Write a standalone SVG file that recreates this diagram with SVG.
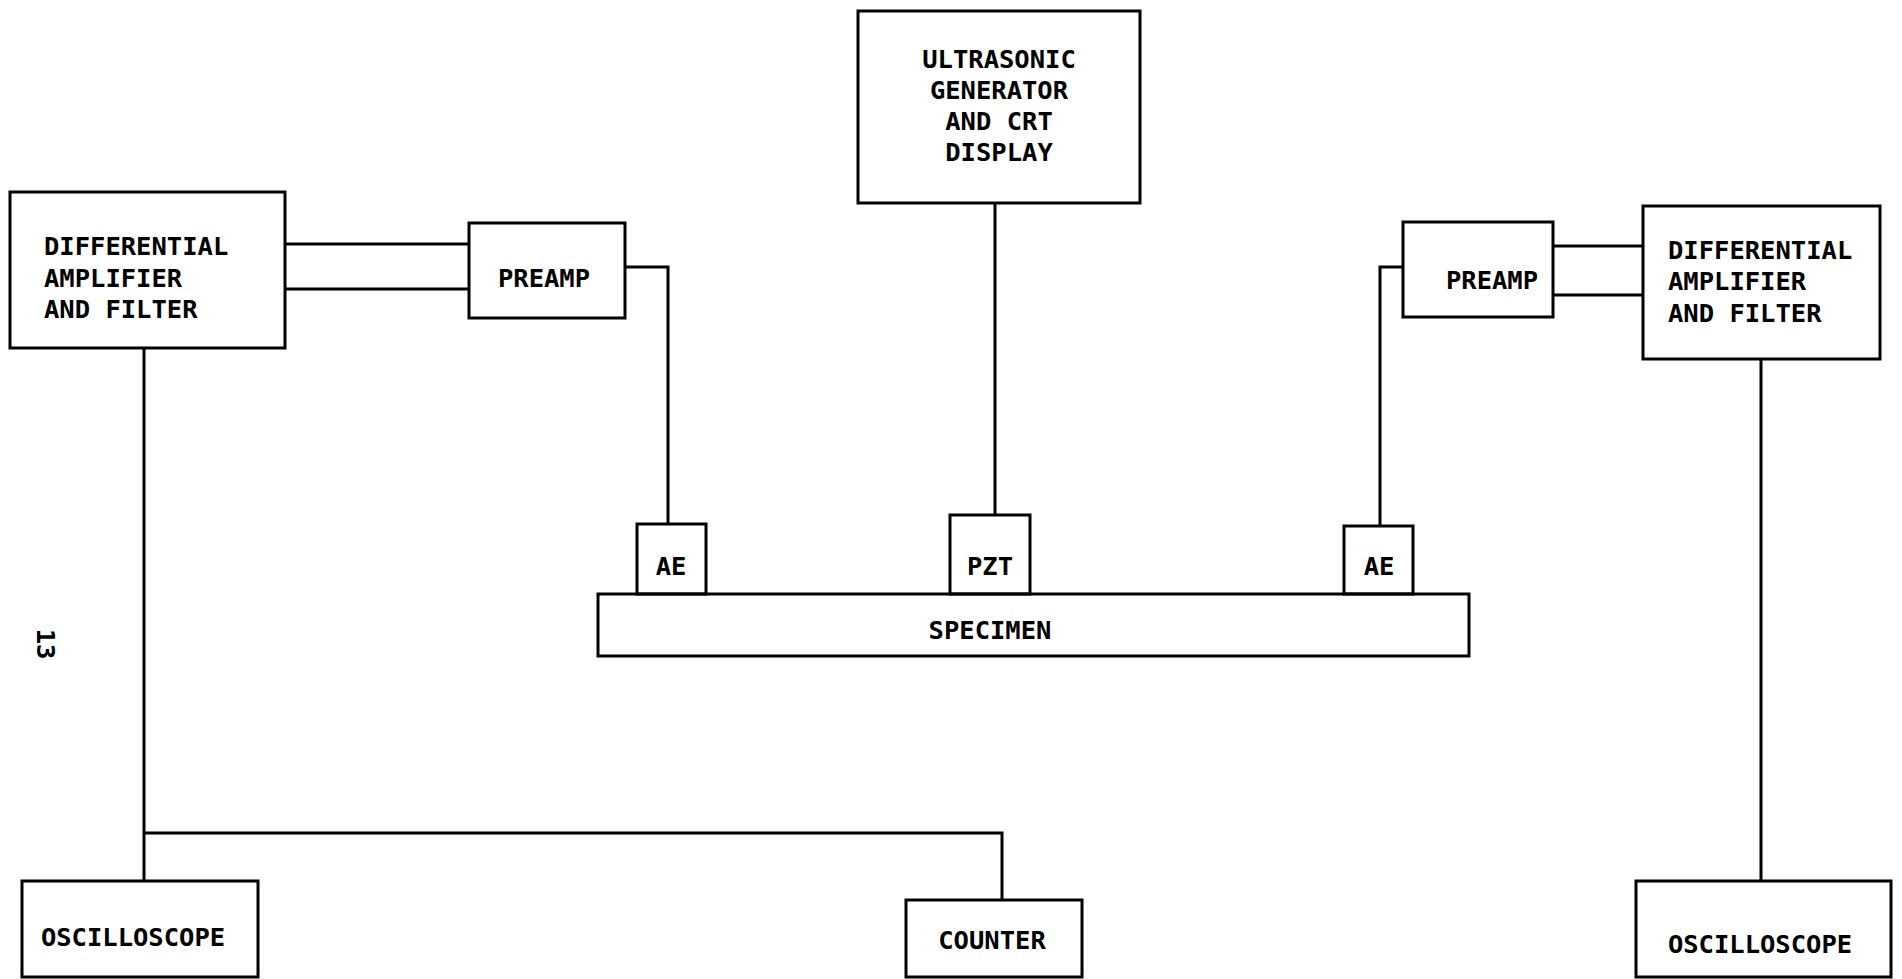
<svg xmlns="http://www.w3.org/2000/svg" width="1902" height="979" viewBox="0 0 1902 979">
<style>
rect.box{fill:none;stroke:#000;stroke-width:3}
.c path{fill:none;stroke:#000;stroke-width:3}
text{font-family:"DejaVu Sans Mono","Liberation Mono",monospace;font-size:25.5px;font-weight:bold;fill:#000}
.m{text-anchor:middle}
</style>
<rect width="1902" height="979" fill="#fff"/>
<g class="c" id="connectors">
<path d="M285 244H469M285 289H469"/>
<path d="M625 267H668V524"/>
<path d="M995 203V515"/>
<path d="M1403 267H1380V526"/>
<path d="M1553 246H1643M1553 295H1643"/>
<path d="M1761 359V881"/>
<path d="M144 348V881M144 833H1002V900"/>
</g>
<g id="daf-left"><rect class="box" x="10" y="192" width="275" height="156"/>
<text x="44" y="255">DIFFERENTIAL</text><text x="44" y="287">AMPLIFIER</text><text x="44" y="318">AND FILTER</text></g>
<g id="preamp-left"><rect class="box" x="469" y="223" width="156" height="95"/><text class="m" x="544" y="287">PREAMP</text></g>
<g id="generator"><rect class="box" x="858" y="11" width="282" height="192"/>
<text class="m" x="999" y="68">ULTRASONIC</text><text class="m" x="999" y="99">GENERATOR</text><text class="m" x="999" y="130">AND CRT</text><text class="m" x="999" y="161">DISPLAY</text></g>
<g id="preamp-right"><rect class="box" x="1403" y="222" width="150" height="95"/><text class="m" x="1492" y="289">PREAMP</text></g>
<g id="daf-right"><rect class="box" x="1643" y="206" width="237" height="153"/>
<text x="1668" y="259">DIFFERENTIAL</text><text x="1668" y="290">AMPLIFIER</text><text x="1668" y="322">AND FILTER</text></g>
<g id="ae-left"><rect class="box" x="637" y="524" width="69" height="70"/><text class="m" x="671" y="575">AE</text></g>
<g id="pzt"><rect class="box" x="950" y="515" width="80" height="79"/><text class="m" x="990" y="575">PZT</text></g>
<g id="ae-right"><rect class="box" x="1344" y="526" width="69" height="68"/><text class="m" x="1379" y="575">AE</text></g>
<g id="specimen"><rect class="box" x="598" y="594" width="871" height="62"/><text class="m" x="990" y="639">SPECIMEN</text></g>
<g id="osc-left"><rect class="box" x="22" y="881" width="236" height="96"/><text class="m" x="133" y="946">OSCILLOSCOPE</text></g>
<g id="counter"><rect class="box" x="906" y="900" width="176" height="77"/><text class="m" x="992" y="949">COUNTER</text></g>
<g id="osc-right"><rect class="box" x="1636" y="881" width="255" height="96"/><text class="m" x="1760" y="953">OSCILLOSCOPE</text></g>
<text class="m" transform="translate(37 644) rotate(90)">13</text>
</svg>
